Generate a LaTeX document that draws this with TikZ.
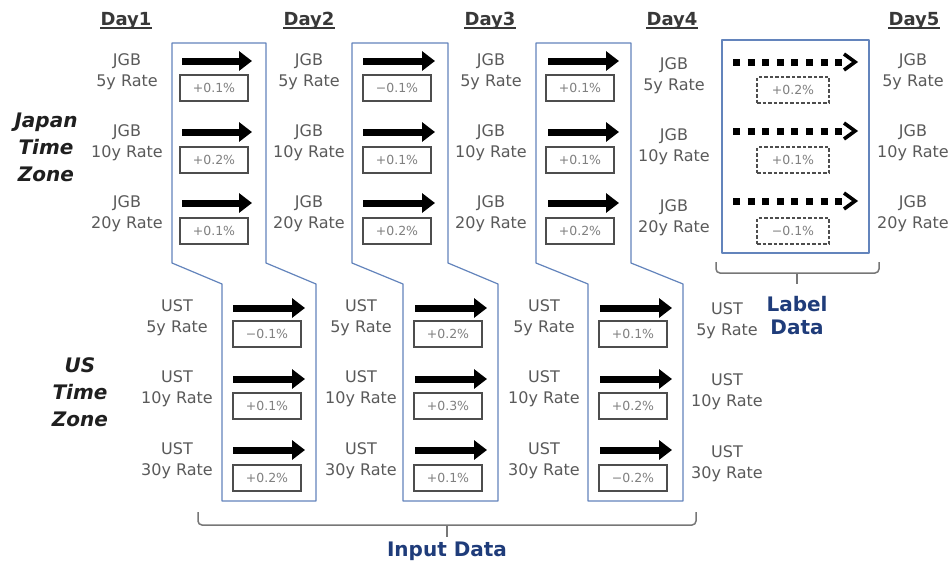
\documentclass[tikz,border=0pt]{standalone}
\usepackage{fontspec}
\setmainfont{DejaVu Sans}
\usetikzlibrary{arrows.meta,calc}
\definecolor{framecol}{HTML}{6384BC}
\definecolor{navy}{HTML}{1F3C7A}
\definecolor{labgray}{HTML}{5A5A5A}
\definecolor{pctgray}{HTML}{808080}
\definecolor{boxgray}{HTML}{4D4D4D}
\definecolor{bracegray}{HTML}{777777}
\begin{document}
\begin{tikzpicture}[x=1pt,y=-1pt,
  rate/.style={align=center,text=labgray,font=\fontsize{16}{21}\selectfont,inner sep=0pt},
  dayhead/.style={anchor=base,text=black!78,font=\fontsize{18}{20}\selectfont\bfseries,inner sep=0pt},
  uline/.style={draw=black!78,line width=1.4pt},
  zone/.style={align=center,text=black!88,font=\fontsize{20}{27}\selectfont\bfseries\itshape,inner sep=0pt},
  title/.style={align=center,text=navy,font=\fontsize{20}{23}\selectfont\bfseries,inner sep=0pt},
  pct/.style={draw=boxgray,line width=1.3pt,minimum width=68pt,minimum height=26pt,inner sep=0pt,text=pctgray,font=\fontsize{12.5}{14}\selectfont},
  pctdash/.style={pct,minimum width=72pt,dash pattern=on 3.5pt off 2pt},
  move/.style={line width=7pt,-{Triangle[length=13pt,width=19pt]}},
  dotshaft/.style={line width=7pt,dash pattern=on 7pt off 7.6pt},
  chevron/.style={line width=3.6pt,line join=miter},
  frame/.style={draw=framecol,line width=1.2pt,line join=round},
  brace/.style={draw=bracegray,line width=1.5pt,rounded corners=4pt},
]
\useasboundingbox[fill=white] (0,0) rectangle (951,568);

% input-data windows (Japan session on top, US session below)
\draw[frame] (172,43) -- (266,43) -- (266,263) -- (316,284) -- (316,501) -- (222,501) -- (222,284) -- (172,263) -- cycle;
\draw[frame] (352,43) -- (448,43) -- (448,263) -- (498,284) -- (498,501) -- (403,501) -- (403,284) -- (352,263) -- cycle;
\draw[frame] (536,43) -- (631,43) -- (631,263) -- (683,284) -- (683,501) -- (588,501) -- (588,284) -- (536,263) -- cycle;
% label-data window
\draw[frame] (722,40) rectangle (869,253);

% day headers, underlined
\foreach \d/\x in {1/126, 2/309, 3/490, 4/672, 5/914} {
  \node[dayhead] (day\d) at (\x,25) {Day\d};
  \draw[uline] ($(day\d.base west)+(0,3)$) -- ($(day\d.base east)+(0,3)$);
}

% time zones
\node[zone] (jpzone) at (46,147) {Japan\\Time\\Zone};
\node[zone] (uszone) at (80,392) {US\\Time\\Zone};

% JGB labels per day
\foreach \c/\x/\dy in {1/127/0, 2/309/0, 3/491/0, 4/674/4, 5/913/0} {
  \node[rate] (j\c a) at (\x,71.5+\dy) {JGB\\5y Rate};
  \node[rate] (j\c b) at (\x,142.5+\dy) {JGB\\10y Rate};
  \node[rate] (j\c c) at (\x,213.5+\dy) {JGB\\20y Rate};
}
% UST labels per day
\foreach \c/\x/\dy in {1/177/0, 2/361/0, 3/544/0, 4/727/3} {
  \node[rate] (u\c a) at (\x,317.5+\dy) {UST\\5y Rate};
  \node[rate] (u\c b) at (\x,389+\dy) {UST\\10y Rate};
  \node[rate] (u\c c) at (\x,460.5+\dy) {UST\\30y Rate};
}

% Japan session moves
\foreach \c/\xs/\xe/\xb/\va/\vb/\vc in {
    1/182/252/214/+0.1\%/+0.2\%/+0.1\%,
    2/363/435/397/−0.1\%/+0.1\%/+0.2\%,
    3/548/619/580/+0.1\%/+0.1\%/+0.2\%} {
  \foreach \r/\ya/\yb/\v in {a/61/88/\va, b/132/160/\vb, c/203/231/\vc} {
    \coordinate (js\c\r) at (\xs,\ya);
    \coordinate (je\c\r) at (\xe,\ya);
    \draw[move] (js\c\r) -- (je\c\r);
    \node[pct] (jp\c\r) at (\xb,\yb) {\v};
  }
}
% US session moves
\foreach \c/\xs/\xe/\xb/\va/\vb/\vc in {
    1/233/305/267/−0.1\%/+0.1\%/+0.2\%,
    2/415/487/448/+0.2\%/+0.3\%/+0.1\%,
    3/600/672/633/+0.1\%/+0.2\%/−0.2\%} {
  \foreach \r/\ya/\yb/\v in {a/308/334/\va, b/379/406/\vb, c/450/478/\vc} {
    \coordinate (us\c\r) at (\xs,\ya);
    \coordinate (ue\c\r) at (\xe,\ya);
    \draw[move] (us\c\r) -- (ue\c\r);
    \node[pct] (up\c\r) at (\xb,\yb) {\v};
  }
}
% label moves (Day4 -> Day5)
\foreach \r/\ya/\yb/\v in {a/62/90/+0.2\%, b/131/160/+0.1\%, c/201/231/−0.1\%} {
  \coordinate (ls\r) at (733,\ya);
  \coordinate (lm\r) at (843,\ya);
  \coordinate (le\r) at (855,\ya);
  \draw[dotshaft] (ls\r) -- (lm\r);
  \draw[chevron] ($(le\r)+(-11,-8)$) -- (le\r) -- ($(le\r)+(-11,8)$);
  \node[pctdash] (lp\r) at (793,\yb) {\v};
}

% braces
\coordinate (inL) at (198,512);
\coordinate (inR) at (696,512);
\coordinate (inM) at (447,525);
\coordinate (inT) at (447,537);
\draw[brace] (inL) |- (inM) -| (inR);
\draw[brace] (inM) -- (inT);
\coordinate (lbL) at (716,262);
\coordinate (lbR) at (879,262);
\coordinate (lbM) at (797,273);
\coordinate (lbT) at (797,284);
\draw[brace] (lbL) |- (lbM) -| (lbR);
\draw[brace] (lbM) -- (lbT);

\node[title] (inputdata) at (447,551) {Input Data};
\node[title] (labeldata) at (797,316) {Label\\Data};
\end{tikzpicture}
\end{document}
